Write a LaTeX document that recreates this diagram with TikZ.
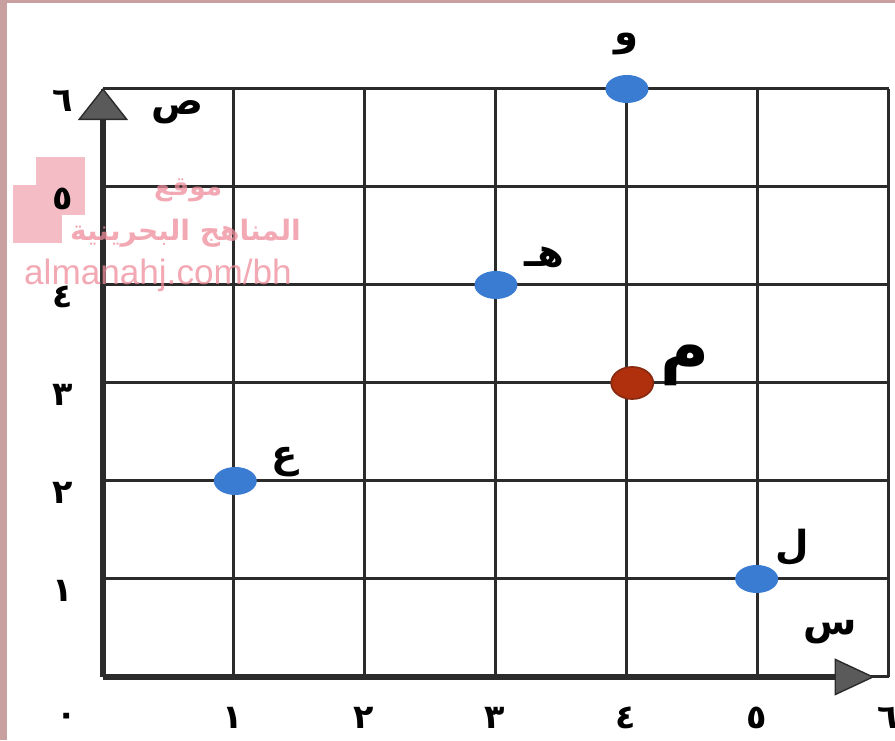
\documentclass[tikz,border=0pt]{standalone}
\usepackage{fontspec}
\setsansfont{Liberation Sans}
\newfontfamily\arabicfont[Script=Arabic]{DejaVu Sans}
\TeXXeTstate=1
\usetikzlibrary{arrows.meta, shapes.geometric}
\definecolor{gridgray}{HTML}{2B2B2B}
\definecolor{arrowgray}{HTML}{5A5A5A}
\definecolor{dotblue}{HTML}{3A7CD2}
\definecolor{dotred}{HTML}{B0300E}
\definecolor{dotredline}{HTML}{8A2A10}
\definecolor{markpink}{HTML}{EE8C9A}
\definecolor{boxpink}{HTML}{F4BCC5}
\definecolor{framepink}{HTML}{C9A0A0}

\begin{document}
\begin{tikzpicture}[x=2.62cm, y=1.96cm,
        gridline/.style={gridgray, line width=1.7pt},
        axisline/.style={gridgray, line width=3.4pt},
        axistip/.style={-{Triangle[length=#1, fill=arrowgray, line width=0.8pt]}},
        bluedot/.style={ellipse, fill=dotblue, minimum width=0.86cm, minimum height=0.56cm, inner sep=0pt},
        reddot/.style={ellipse, fill=dotred, draw=dotredline, line width=1pt, minimum width=0.84cm, minimum height=0.64cm, inner sep=0pt},
        ptlabel/.style={font=\arabicfont\bfseries\fontsize{22}{24}\selectfont},
        numlabel/.style={font=\arabicfont\bfseries\fontsize{19}{20}\selectfont},
        marktext/.style={markpink, opacity=0.75}]
    \useasboundingbox (-0.786,-0.643) rectangle (6.046,6.908);

    % watermark boxes, under the numbers
    \fill[boxpink] (-0.51,5.31) rectangle (-0.14,4.71);
    \fill[boxpink] (-0.69,5.02) rectangle (-0.31,4.43);

    % grid
    \foreach \i in {0,...,6} {
        \draw[gridline] (\i,0) -- (\i,6);
        \draw[gridline] (0,\i) -- (6,\i);
    }

    % axes
    \coordinate (O) at (0,0);
    \coordinate (xend) at (5.89,0);
    \coordinate (yend) at (0,6.01);
    \draw[axisline, axistip={0.8cm, width=0.74cm}] (O) -- (xend);
    \draw[axisline, axistip={0.64cm, width=1cm}] (O) -- (yend);
    \node[ptlabel] (xname) at (5.55,0.46) {\beginR س\endR};
    \node[ptlabel] (yname) at (0.57,5.76) {\beginR ص\endR};

    % numbers
    \node[numlabel] (n0) at (-0.28,-0.43) {\beginR ٠\endR};
    \foreach \k/\d in {1/١,2/٢,3/٣,4/٤,5/٥,6/٦} {
        \node[numlabel] (x\k) at (\k-0.01,-0.42) {\beginR \d\endR};
        \node[numlabel] (y\k) at (-0.31,\k-0.12) {\beginR \d\endR};
    }

    % points
    \node[bluedot] (w) at (4,6) {};
    \node[bluedot] (h) at (3,4) {};
    \node[bluedot] (ain) at (1.01,2) {};
    \node[bluedot] (lam) at (4.99,1) {};
    \node[reddot] (m) at (4.04,3) {};
    \node[ptlabel] (wlbl) at (4.0,6.46) {\beginR و\endR};
    \node[ptlabel] (hlbl) at (3.37,4.28) {\beginR هـ\endR};
    \node[ptlabel] (ainlbl) at (1.39,2.19) {\beginR ع\endR};
    \node[ptlabel] (lamlbl) at (5.26,1.32) {\beginR ل\endR};
    \node[font=\arabicfont\bfseries\fontsize{38}{40}\selectfont] (mlbl) at (4.44,3.18) {\beginR م\endR};

    % watermark text
    \node[marktext, font=\arabicfont\bfseries\fontsize{15}{16}\selectfont] (mark1) at (0.65,4.97) {\beginR موقع\endR};
    \node[marktext, font=\arabicfont\bfseries\fontsize{16}{17}\selectfont] (mark2) at (0.63,4.53) {\beginR المناهج البحرينية\endR};
    \node[marktext, font=\sffamily\fontsize{20}{22}\selectfont] (mark3) at (0.42,4.1) {almanahj.com/bh};

    % frame
    \fill[framepink] (-0.786,-0.643) rectangle (-0.733,6.908);
    \fill[framepink] (-0.786,6.878) rectangle (6.046,6.908);
\end{tikzpicture}
\end{document}
